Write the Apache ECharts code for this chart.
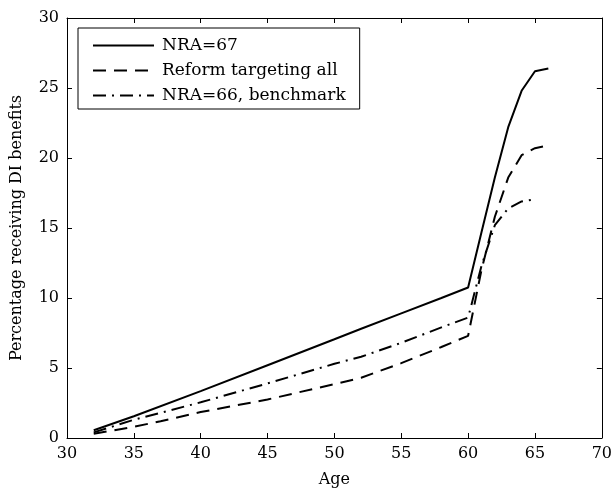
<!DOCTYPE html>
<html>
<head>
<meta charset="utf-8">
<script src="https://cdn.jsdelivr.net/npm/echarts@6/dist/echarts.min.js"></script>
<style>html,body{margin:0;padding:0;background:#fff}#c{width:615px;height:494px}</style>
</head>
<body>
<div id="c"></div>
<script>
var seriesNames = ['NRA=67', 'Reform targeting all', 'NRA=66, benchmark'];
var agesNRA67 = [32, 35, 40, 45, 50, 52, 55, 58, 60, 61, 62, 63, 64, 65, 66];
var valsNRA67 = [0.55, 1.55, 3.35, 5.2, 7.05, 7.8, 8.9, 10.0, 10.75, 14.7, 18.6, 22.2, 24.8, 26.2, 26.4];
var agesReform = [32, 35, 37, 40, 45, 50, 52, 55, 58, 60, 61, 62, 63, 64, 65, 66];
var valsReform = [0.3, 0.8, 1.2, 1.85, 2.75, 3.85, 4.3, 5.35, 6.5, 7.3, 12.0, 15.8, 18.6, 20.2, 20.7, 20.9];
var agesBench = [32, 35, 40, 45, 50, 52, 55, 58, 60, 61, 62, 63, 64, 65];
var valsBench = [0.4, 1.3, 2.55, 3.9, 5.3, 5.8, 6.8, 7.9, 8.6, 12.3, 15.2, 16.4, 16.9, 17.05];
var xTicks = [30, 35, 40, 45, 50, 55, 60, 65, 70];
var yTicks = [0, 5, 10, 15, 20, 25, 30];

function pairs(a, b) { return a.map(function (x, i) { return [x, b[i]]; }); }

var FONT = 'DejaVu Serif';
var chart = echarts.init(document.getElementById('c'));
var axisCommon = {
  axisLine: { show: true, onZero: false, lineStyle: { color: '#000', width: 1 } },
  axisTick: { show: true, inside: true, length: 5, lineStyle: { color: '#000' } },
  splitLine: { show: false }
};
chart.setOption({
  animation: false,
  backgroundColor: '#fff',
  grid: { left: 67, right: 12, top: 18, bottom: 56 },
  legend: {
    orient: 'vertical',
    left: 78, top: 28,
    data: seriesNames,
    itemWidth: 61, itemHeight: 14, itemGap: 8,
    padding: [9, 14, 5, 14],
    borderColor: '#000', borderWidth: 1,
    itemStyle: { opacity: 0 },
    textStyle: { fontFamily: FONT, fontSize: 17, color: '#000', padding: [0, 0, 0, 3] }
  },
  xAxis: [
    Object.assign({
      type: 'value', min: 30, max: 70, interval: 5,
      name: 'Age', nameLocation: 'middle', nameGap: 34,
      nameTextStyle: { fontFamily: FONT, fontSize: 16, color: '#000' },
      axisLabel: { fontFamily: FONT, fontSize: 16, color: '#000', margin: 8 }
    }, axisCommon),
    Object.assign({
      type: 'value', min: 30, max: 70, interval: 5, position: 'top',
      axisLabel: { show: false }
    }, axisCommon)
  ],
  yAxis: [
    Object.assign({
      type: 'value', min: 0, max: 30, interval: 5,
      name: 'Percentage receiving DI benefits', nameLocation: 'middle', nameGap: 42,
      nameTextStyle: { fontFamily: FONT, fontSize: 16, color: '#000' },
      axisLabel: { fontFamily: FONT, fontSize: 16, color: '#000', margin: 8 }
    }, axisCommon),
    Object.assign({
      type: 'value', min: 0, max: 30, interval: 5, position: 'right',
      axisLabel: { show: false }
    }, axisCommon)
  ],
  series: [
    { name: seriesNames[0], type: 'line', data: pairs(agesNRA67, valsNRA67), showSymbol: false, symbol: 'none',
      lineStyle: { color: '#000', width: 2, type: 'solid' }, itemStyle: { color: '#000' } },
    { name: seriesNames[1], type: 'line', data: pairs(agesReform, valsReform), showSymbol: false, symbol: 'none',
      lineStyle: { color: '#000', width: 2, type: [13, 8] }, itemStyle: { color: '#000' } },
    { name: seriesNames[2], type: 'line', data: pairs(agesBench, valsBench), showSymbol: false, symbol: 'none',
      lineStyle: { color: '#000', width: 2, type: [13, 6, 2, 6] }, itemStyle: { color: '#000' } }
  ]
});
</script>
</body>
</html>
